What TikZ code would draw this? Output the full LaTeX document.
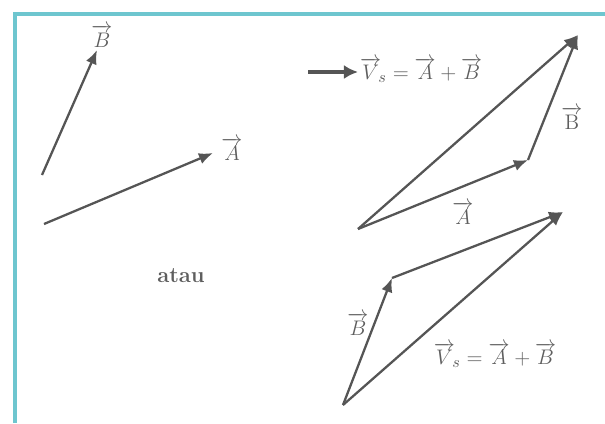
\documentclass[tikz,border=0pt]{standalone}
\usepackage{amsmath}
\usetikzlibrary{arrows.meta,positioning}
\definecolor{VecGray}{HTML}{555555}
\definecolor{TextGray}{HTML}{5E5E5E}
\definecolor{FrameTeal}{HTML}{6EC6CF}
\tikzset{
  vecarrow/.style={-{Latex[length=8pt,width=6.5pt]}, line width=1.3pt, draw=VecGray},
  bigarrow/.style={-{Latex[length=8pt,width=8pt]}, line width=2.8pt, draw=VecGray},
  veclabel/.style={text=TextGray, inner sep=1pt, font=\fontsize{12.5}{14}\selectfont},
  orlabel/.style={text=TextGray, inner sep=1pt, font=\fontsize{12.5}{14}\selectfont\bfseries},
  frameline/.style={line width=2.2pt, draw=FrameTeal}
}

\begin{document}
\begin{tikzpicture}[x=0.02cm, y=-0.02cm]
  \useasboundingbox (0,0) rectangle (605,423);
  \draw[frameline] (15,423) -- (15,14) -- (605,14);

  % separate vectors
  \coordinate (Bt) at (42,175);
  \coordinate (Bh) at (97,50);
  \coordinate (At) at (44,224);
  \coordinate (Ah) at (213,153);
  \draw[vecarrow] (Bt) -- (Bh);
  \draw[vecarrow] (At) -- (Ah);
  \node[veclabel] (lB) at (102,36) {$\overrightarrow{B}$};
  \node[veclabel] (lA) at (232,149) {$\overrightarrow{A}$};

  % A first, then B
  \coordinate (p0) at (358,229);
  \coordinate (p1) at (528,160);
  \coordinate (p2) at (578,35);
  \draw[vecarrow] (p0) -- (p1);
  \draw[vecarrow] (p1) -- (p2);
  \draw[vecarrow] (p0) -- (p2);
  \node[veclabel] (lA1) at (463,213) {$\overrightarrow{A}$};
  \node[veclabel] (lB1) at (572,118) {$\overrightarrow{\mathrm{B}}$};
  \node[veclabel, anchor=west] (vs1) at (358,70) {$\overrightarrow{V}_{\!s} = \overrightarrow{A} + \overrightarrow{B}$};
  \coordinate (ar0) at (308,72);
  \draw[bigarrow] (ar0) -- (ar0 -| vs1.west);

  \node[orlabel] (atau) at (181,276) {atau};

  % B first, then A
  \coordinate (q0) at (343,405);
  \coordinate (q1) at (392,278);
  \coordinate (q2) at (563,212);
  \draw[vecarrow] (q0) -- (q1);
  \draw[vecarrow] (q1) -- (q2);
  \draw[vecarrow] (q0) -- (q2);
  \node[veclabel] (lB2) at (358,324) {$\overrightarrow{B}$};
  \node[veclabel] (vs2) at (495,355) {$\overrightarrow{V}_{\!s} = \overrightarrow{A} + \overrightarrow{B}$};
\end{tikzpicture}
\end{document}
